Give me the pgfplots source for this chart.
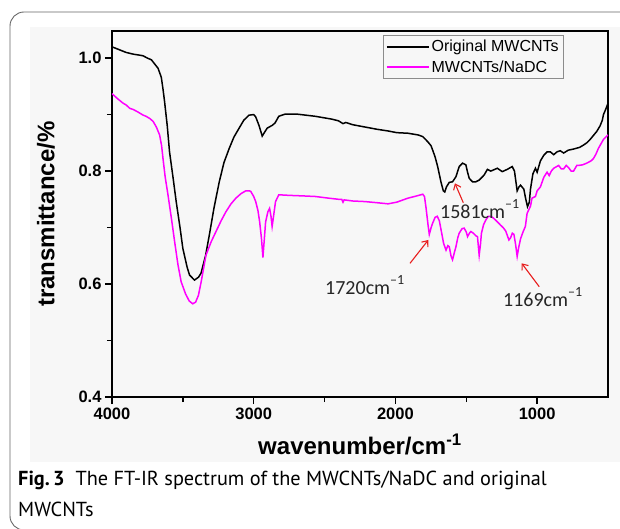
\documentclass[border=0pt]{standalone}
\usepackage{pgfplots}
\pgfplotsset{compat=1.18}
\usepackage{fontspec}
\setmainfont{Liberation Sans}
\newfontfamily\annfont{Carlito}
\newfontfamily\capfont{PT Sans}
\usetikzlibrary{arrows.meta}
\definecolor{mag}{RGB}{255,0,255}
\definecolor{arrred}{RGB}{232,30,30}

\begin{document}
\begin{tikzpicture}[x=1pt,y=1pt]
\clip (0,0) rectangle (620,528);
\fill[black!3] (30,66) rectangle (620,501);
\draw[black!60, line width=0.9pt, rounded corners=14pt] (10,-2) rectangle (660,516);
\node[anchor=base west, inner sep=0pt, font=\capfont\fontsize{20.3}{24}\selectfont] at (18,43) {\textbf{Fig.\,3}\ \ The FT-IR spectrum of the MWCNTs/NaDC and original};
\node[anchor=base west, inner sep=0pt, font=\capfont\fontsize{20.3}{24}\selectfont] at (18,12) {MWCNTs};
\begin{axis}[
  at={(112pt,131pt)}, anchor=south west,
  scale only axis, width=496pt, height=366pt,
  xmin=500, xmax=4000, x dir=reverse,
  ymin=0.4, ymax=1.048,
  xtick={1000,2000,3000,4000}, minor xtick={1500,2500,3500},
  ytick={0.4,0.6,0.8,1.0}, minor ytick={0.5,0.7,0.9},
  xtick pos=bottom, ytick pos=left,
  tick align=outside,
  major tick length=7pt, minor tick length=5pt,
  axis line style={line width=2.2pt},
  every tick/.style={line width=1.5pt, black},
  /pgf/number format/assume math mode=true,
  tick label style={font=\bfseries\fontsize{16.5}{18}\selectfont},
  x tick label style={/pgf/number format/1000 sep={}},
  y tick label style={/pgf/number format/fixed, /pgf/number format/fixed zerofill, /pgf/number format/precision=1},
  xlabel={wavenumber/cm\textsuperscript{-1}},
  ylabel={transmittance/\%},
  xlabel style={font=\bfseries\fontsize{24}{26}\selectfont, at={(axis description cs:0.5,-0.158)}, anchor=base},
  ylabel style={font=\bfseries\fontsize{24}{26}\selectfont, at={(axis description cs:-0.133,0.5)}, anchor=center},
  legend style={at={(axis description cs:0.546,0.989)}, anchor=north west, draw=black!45, line width=0.6pt, fill=none,
    font=\fontsize{16}{18}\selectfont, inner xsep=3pt, inner ysep=3pt, row sep=3pt, cells={anchor=west}},
  legend image code/.code={\draw[#1] (0pt,0pt) -- (42pt,0pt);},
]
\addplot[black, line width=1.5pt] table {
4000 1.020
3950 1.015
3900 1.010
3850 1.007
3800 1.005
3780 1.004
3750 1.000
3722 0.997
3700 0.990
3675 0.982
3652 0.966
3640 0.945
3629 0.923
3610 0.880
3594 0.834
3570 0.790
3547 0.746
3520 0.700
3500 0.663
3470 0.630
3453 0.616
3418 0.607
3390 0.612
3372 0.619
3340 0.650
3313 0.687
3280 0.735
3243 0.781
3210 0.815
3173 0.840
3140 0.860
3103 0.876
3070 0.890
3033 0.899
3000 0.900
2986 0.896
2963 0.881
2940 0.862
2925 0.868
2905 0.876
2869 0.881
2850 0.885
2823 0.897
2776 0.901
2700 0.901
2566 0.897
2450 0.892
2402 0.889
2370 0.884
2350 0.886
2300 0.882
2215 0.878
2130 0.874
2052 0.871
1990 0.868
1912 0.867
1840 0.864
1807 0.861
1772 0.852
1749 0.845
1737 0.837
1720 0.825
1702 0.808
1678 0.780
1662 0.765
1652 0.763
1640 0.772
1620 0.780
1597 0.781
1573 0.790
1550 0.808
1526 0.814
1503 0.811
1491 0.798
1479 0.787
1456 0.781
1433 0.781
1409 0.784
1374 0.793
1351 0.803
1327 0.800
1281 0.805
1246 0.799
1211 0.803
1176 0.808
1160 0.800
1141 0.765
1128 0.772
1117 0.775
1094 0.768
1080 0.750
1068 0.737
1055 0.745
1047 0.768
1030 0.795
1012 0.805
1000 0.798
977 0.818
953 0.828
930 0.834
907 0.834
883 0.829
860 0.834
837 0.836
813 0.832
780 0.837
743 0.839
700 0.842
673 0.846
650 0.850
626 0.856
603 0.863
580 0.870
556 0.880
540 0.890
532 0.900
515 0.910
500 0.920
};
\addlegendentry{Original MWCNTs}
\addplot[mag, line width=1.5pt] table {
4000 0.937
3960 0.928
3921 0.920
3900 0.917
3874 0.911
3850 0.909
3820 0.905
3780 0.899
3760 0.897
3733 0.893
3710 0.888
3687 0.878
3664 0.864
3650 0.845
3640 0.822
3625 0.790
3605 0.758
3580 0.715
3558 0.675
3535 0.635
3512 0.604
3480 0.582
3455 0.570
3430 0.565
3410 0.568
3390 0.580
3370 0.605
3337 0.651
3300 0.675
3266 0.693
3230 0.712
3196 0.728
3160 0.742
3126 0.752
3090 0.760
3056 0.765
3030 0.765
3021 0.764
3000 0.755
2986 0.746
2970 0.730
2958 0.710
2945 0.680
2935 0.647
2925 0.680
2916 0.710
2900 0.728
2888 0.734
2878 0.720
2870 0.702
2860 0.720
2846 0.746
2823 0.758
2750 0.757
2650 0.756
2566 0.755
2470 0.752
2400 0.750
2379 0.750
2370 0.745
2362 0.749
2300 0.747
2215 0.746
2130 0.744
2052 0.742
1990 0.745
1912 0.752
1850 0.756
1807 0.759
1795 0.755
1784 0.735
1770 0.705
1761 0.688
1748 0.700
1737 0.708
1720 0.718
1705 0.720
1690 0.712
1678 0.696
1660 0.672
1643 0.660
1630 0.668
1620 0.666
1608 0.650
1597 0.643
1585 0.655
1573 0.666
1560 0.682
1550 0.690
1530 0.698
1515 0.699
1500 0.692
1491 0.684
1478 0.690
1468 0.693
1450 0.690
1430 0.685
1421 0.684
1409 0.651
1400 0.670
1393 0.690
1378 0.705
1363 0.713
1345 0.720
1327 0.720
1310 0.717
1292 0.713
1257 0.704
1240 0.700
1222 0.694
1199 0.678
1187 0.682
1175 0.690
1164 0.688
1152 0.670
1141 0.649
1130 0.665
1117 0.680
1100 0.692
1083 0.702
1071 0.725
1047 0.738
1036 0.752
1012 0.755
1000 0.765
977 0.772
953 0.789
930 0.798
915 0.792
900 0.800
883 0.805
848 0.810
830 0.804
813 0.804
795 0.810
778 0.806
760 0.800
743 0.800
720 0.810
708 0.810
680 0.811
650 0.814
620 0.818
603 0.822
585 0.830
568 0.840
550 0.848
532 0.856
500 0.864
};
\addlegendentry{MWCNTs/NaDC}
% annotations
\node[anchor=base west, inner sep=0pt, font=\annfont\fontsize{20}{22}\selectfont, text=black!85] at (axis cs:2497,0.5806) {1720cm\raisebox{0.5em}{\fontsize{14}{14}\selectfont\textendash1}};
\node[anchor=base west, inner sep=0pt, font=\annfont\fontsize{20}{22}\selectfont, text=black!85] at (axis cs:1686,0.7169) {1581cm\raisebox{0.5em}{\fontsize{14}{14}\selectfont\textendash1}};
\node[anchor=base west, inner sep=0pt, font=\annfont\fontsize{20}{22}\selectfont, text=black!85] at (axis cs:1241,0.560) {1169cm\raisebox{0.5em}{\fontsize{14}{14}\selectfont\textendash1}};
\draw[arrred, line width=1.1pt, -{Straight Barb[length=5pt,width=8pt]}] (axis cs:1897,0.6367) -- (axis cs:1768,0.678);
\draw[arrred, line width=1.1pt, -{Straight Barb[length=5pt,width=8pt]}] (axis cs:1521,0.744) -- (axis cs:1580,0.7783);
\draw[arrred, line width=1.1pt, -{Straight Barb[length=5pt,width=8pt]}] (axis cs:985,0.5953) -- (axis cs:1109,0.6367);
\end{axis}
\end{tikzpicture}
\end{document}
